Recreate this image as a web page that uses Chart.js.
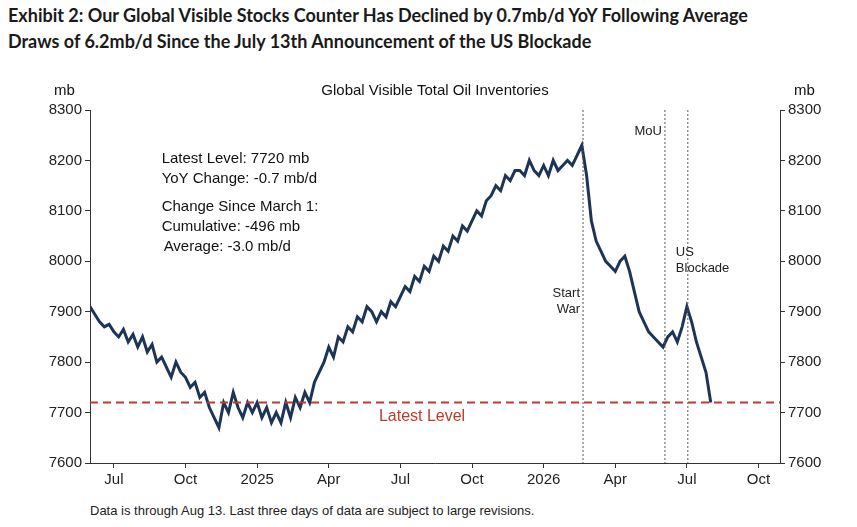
<!DOCTYPE html>
<html>
<head>
<meta charset="utf-8">
<script src="https://cdn.jsdelivr.net/npm/chart.js@4"></script>
<style>
  body { margin: 0; background: #fff; width: 857px; height: 527px; overflow: hidden; font-family: "Liberation Sans", Arial, sans-serif; }
  h1 { position: absolute; left: 8px; top: 2px; margin: 0; font: bold 18px/26px Lato, sans-serif; color: #1a1a1a; }
  #wrap { position: absolute; left: 0; top: 72px; width: 857px; height: 428px; }
  #note { position: absolute; left: 90px; top: 503px; font-size: 13px; color: #222; }
</style>
</head>
<body>
<h1>Exhibit 2: Our Global Visible Stocks Counter Has Declined by 0.7mb/d YoY Following Average<br>Draws of 6.2mb/d Since the July 13th Announcement of the US Blockade</h1>
<div id="wrap"><canvas id="chart"></canvas></div>
<div id="note">Data is through Aug 13. Last three days of data are subject to large revisions.</div>
<script>
// month index: 0 = Jan 2024; one point every 0.2 month from 5.0
const startMonth = 5.0;
const stepMonth = 0.2;
const inventories = [
  7910, 7895, 7880, 7870, 7875,
  7860, 7850, 7865, 7840, 7855,
  7830, 7850, 7820, 7835, 7800,
  7810, 7790, 7770, 7800, 7780,
  7770, 7750, 7760, 7730, 7740,
  7710, 7690, 7670, 7720, 7700,
  7740, 7710, 7690, 7720, 7700,
  7720, 7690, 7710, 7680, 7700,
  7680, 7720, 7690, 7730, 7710,
  7740, 7720, 7760, 7780, 7800,
  7830, 7810, 7850, 7840, 7870,
  7860, 7890, 7880, 7910, 7900,
  7880, 7900, 7890, 7920, 7910,
  7930, 7950, 7940, 7970, 7960,
  7990, 7980, 8010, 8000, 8030,
  8020, 8050, 8040, 8070, 8060,
  8080, 8100, 8090, 8120, 8130,
  8150, 8140, 8170, 8160, 8180,
  8180, 8170, 8200, 8180, 8170,
  8190, 8170, 8200, 8180, 8190,
  8200, 8190, 8210, 8230, 8170,
  8080, 8040, 8020, 8000, 7990,
  7980, 8000, 8010, 7980, 7940,
  7900, 7880, 7860, 7850, 7840,
  7830, 7850, 7860, 7840, 7870,
  7910, 7880, 7840, 7810, 7780,
  7720
];
const tickMonths = [6, 9, 12, 15, 18, 21, 24, 27, 30, 33];
const tickLabels = ['Jul', 'Oct', '2025', 'Apr', 'Jul', 'Oct', '2026', 'Apr', 'Jul', 'Oct'];
const events = [
  { m: 25.65, y: 7930 },
  { m: 29.08, y: 8250 },
  { m: 30.04, y: 8010 }
];
const latestLevel = 7720;

const points = inventories.map((v, i) => ({ x: startMonth + i * stepMonth, y: v }));

const overlay = {
  id: 'overlay',
  afterDatasetsDraw(chart) {
    const { ctx, chartArea: a, scales: { x, y } } = chart;
    ctx.save();
    ctx.font = '13px "Liberation Sans", Arial';
    ctx.fillStyle = '#222';
    ctx.strokeStyle = '#555';
    ctx.lineWidth = 1;
    ctx.setLineDash([2, 2]);
    events.forEach(e => {
      const px = x.getPixelForValue(e.m);
      ctx.beginPath(); ctx.moveTo(px, a.top); ctx.lineTo(px, a.bottom); ctx.stroke();
    });
    ctx.setLineDash([]);
    ctx.textAlign = 'right';
    const e0 = events[0], p0 = x.getPixelForValue(e0.m);
    ctx.fillText('Start', p0 - 3, y.getPixelForValue(e0.y));
    ctx.fillText('War', p0 - 3, y.getPixelForValue(e0.y) + 16);
    const e1 = events[1], p1 = x.getPixelForValue(e1.m);
    ctx.fillText('MoU', p1 - 3, y.getPixelForValue(e1.y));
    const e2 = events[2], p2 = x.getPixelForValue(e2.m);
    ctx.textAlign = 'left';
    ctx.fillText('US', p2 - 12, y.getPixelForValue(e2.y));
    ctx.fillText('Blockade', p2 - 12, y.getPixelForValue(e2.y) + 16);

    // latest level line
    const ly = y.getPixelForValue(latestLevel);
    ctx.strokeStyle = '#c0392b';
    ctx.lineWidth = 2;
    ctx.setLineDash([8, 5]);
    ctx.beginPath(); ctx.moveTo(a.left, ly); ctx.lineTo(a.right, ly); ctx.stroke();
    ctx.setLineDash([]);
    ctx.fillStyle = '#c0392b';
    ctx.font = '16px "Liberation Sans", Arial';
    ctx.fillText('Latest Level', x.getPixelForValue(17.1), ly + 19);

    // stats text
    ctx.fillStyle = '#111';
    ctx.font = '15px "Liberation Sans", Arial';
    const tx = x.getPixelForValue(8.0);
    ctx.fillText('Latest Level: 7720 mb', tx, y.getPixelForValue(8195));
    ctx.fillText('YoY Change: -0.7 mb/d', tx, y.getPixelForValue(8155));
    ctx.fillText('Change Since March 1:', tx, y.getPixelForValue(8100));
    ctx.fillText('Cumulative: -496 mb', tx, y.getPixelForValue(8060));
    ctx.fillText('Average: -3.0 mb/d', tx + 2, y.getPixelForValue(8020));

    // title and units
    ctx.font = '15px "Liberation Sans", Arial';
    ctx.textAlign = 'center';
    ctx.fillText('Global Visible Total Oil Inventories', (a.left + a.right) / 2, a.top - 15);
    ctx.textAlign = 'left';
    ctx.fillText('mb', a.left - 36, a.top - 15);
    ctx.fillText('mb', a.right + 14, a.top - 15);
    ctx.restore();
  }
};

const tickFont = { size: 15, family: '"Liberation Sans", Arial' };

new Chart(document.getElementById('chart'), {
  type: 'line',
  data: {
    datasets: [{
      data: points,
      borderColor: '#1c3557',
      borderWidth: 3,
      pointRadius: 0,
      tension: 0
    }]
  },
  options: {
    responsive: true,
    maintainAspectRatio: false,
    animation: false,
    layout: { padding: { top: 38, left: 0, right: 0, bottom: 0 } },
    plugins: { legend: { display: false }, tooltip: { enabled: false } },
    scales: {
      x: {
        type: 'linear',
        min: 5.0,
        max: 33.9,
        afterBuildTicks: s => { s.ticks = tickMonths.map(v => ({ value: v })); },
        afterFit: s => { s.height = 37; },
        ticks: {
          color: '#222', font: tickFont,
          maxRotation: 0, autoSkip: false,
          callback: v => tickLabels[tickMonths.indexOf(v)]
        },
        grid: { drawOnChartArea: false, color: '#333', tickLength: 5 },
        border: { color: '#333' }
      },
      y: {
        min: 7600, max: 8300,
        afterFit: s => { s.width = 90; },
        ticks: { stepSize: 100, color: '#222', font: tickFont, callback: v => String(v) },
        grid: { drawOnChartArea: false, color: '#333', tickLength: 5 },
        border: { color: '#333' }
      },
      y2: {
        position: 'right',
        min: 7600, max: 8300,
        afterFit: s => { s.width = 77; },
        ticks: { stepSize: 100, color: '#222', font: tickFont, callback: v => String(v) },
        grid: { drawOnChartArea: false, color: '#333', tickLength: 5 },
        border: { color: '#333' }
      }
    }
  },
  plugins: [overlay]
});
</script>
</body>
</html>
